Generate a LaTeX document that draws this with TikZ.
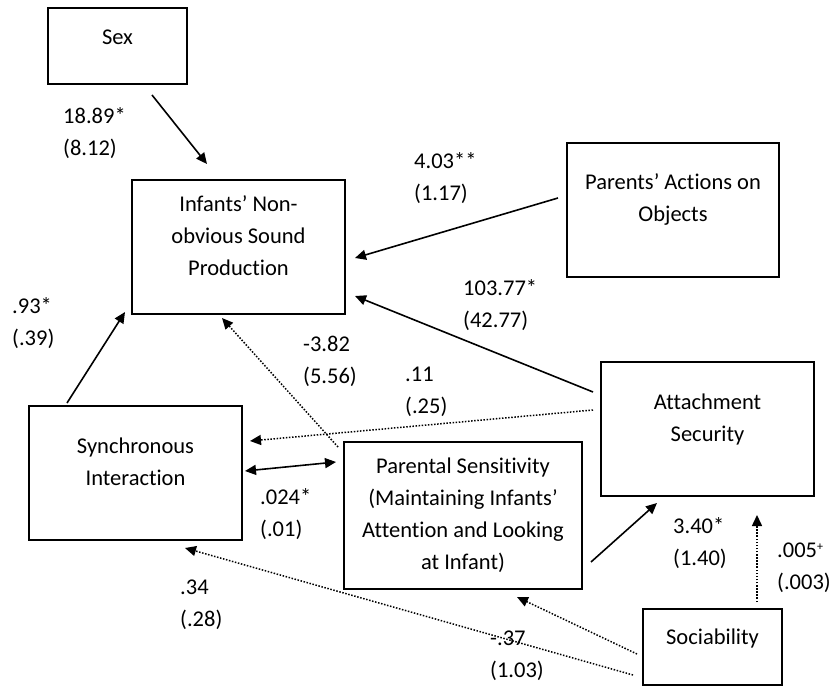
\documentclass[tikz,border=0pt]{standalone}
\usepackage{fontspec}
\setmainfont{Carlito}[Ligatures={NoCommon}]
\usetikzlibrary{arrows.meta,calc}

\begin{document}
\begin{tikzpicture}[x=1pt,y=-1pt,
  box/.style={draw, line width=1.1pt, inner sep=0pt},
  boxtext/.style={align=center, inner sep=0pt, font=\fontsize{22.5}{32}\selectfont},
  coef/.style={align=left, anchor=west, inner sep=0pt, font=\fontsize{22.5}{32}\selectfont},
  effect/.style={line width=1.6pt, -{Triangle[length=11pt,width=10pt]}},
  weak/.style={line width=1.5pt, dash pattern=on 1.5pt off 1.6pt, -{Triangle[length=11pt,width=10pt]}},
  both/.style={line width=1.6pt, {Triangle[length=11pt,width=10pt]}-{Triangle[length=11pt,width=10pt]}}]
\useasboundingbox (0,0) rectangle (835,687);

% variable boxes
\node[box, minimum width=139pt, minimum height=76pt]  (sex)  at (117.5,46)  {};
\node[box, minimum width=213pt, minimum height=134pt] (inf)  at (238.5,247) {};
\node[box, minimum width=212pt, minimum height=134pt] (act)  at (673,210)   {};
\node[box, minimum width=213pt, minimum height=134pt] (att)  at (707.5,429) {};
\node[box, minimum width=213pt, minimum height=134pt] (syn)  at (135.5,473) {};
\node[box, minimum width=238pt, minimum height=147pt] (sen)  at (463,515.5) {};
\node[box, minimum width=139pt, minimum height=76pt]  (soc)  at (712.5,647) {};

% box captions
\node[boxtext] (sex-t) at (117.5,37)  {Sex};
\node[boxtext] (inf-t) at (238.5,236) {Infants’ Non-\\obvious Sound\\Production};
\node[boxtext] (act-t) at (673,199)   {Parents’ Actions on\\Objects};
\node[boxtext] (att-t) at (707.5,419) {Attachment\\Security};
\node[boxtext] (syn-t) at (135.5,462) {Synchronous\\Interaction};
\node[boxtext] (sen-t) at (463,515)   {Parental Sensitivity\\(Maintaining Infants’\\Attention and Looking\\at Infant)};
\node[boxtext] (soc-t) at (712.5,638) {Sociability};

% connector end points
\coordinate (sexA) at (152,95);   \coordinate (sexB) at (207,164);
\coordinate (actA) at (558,198);  \coordinate (actB) at (355,258);
\coordinate (attA) at (593,392);  \coordinate (attB) at (355,296);
\coordinate (synA) at (67,403);   \coordinate (synB) at (125,312);
\coordinate (senA) at (338,447);  \coordinate (senB) at (222,318);
\coordinate (at2A) at (593,410);  \coordinate (at2B) at (250,441);
\coordinate (bidA) at (245,471);  \coordinate (bidB) at (336,462);
\coordinate (se2A) at (591,562);  \coordinate (se2B) at (657,503);
\coordinate (soAA) at (757,602);  \coordinate (soAB) at (757,515);
\coordinate (soPA) at (637,654);  \coordinate (soPB) at (517,597);
\coordinate (soSA) at (633,675);  \coordinate (soSB) at (185,548);

% paths
\draw[effect] (sexA) -- (sexB);
\draw[effect] (actA) -- (actB);
\draw[effect] (attA) -- (attB);
\draw[effect] (synA) -- (synB);
\draw[weak]   (senA) -- (senB);
\draw[weak]   (at2A) -- (at2B);
\draw[both]   (bidA) -- (bidB);
\draw[effect] (se2A) -- (se2B);
\draw[weak]   (soAA) -- (soAB);
\draw[weak]   (soPA) -- (soPB);
\draw[weak]   (soSA) -- (soSB);

% path coefficients (standard errors in brackets)
\node[coef] (c1)  at (63,133)  {18.89*\\(8.12)};
\node[coef] (c2)  at (414,178) {4.03**\\(1.17)};
\node[coef] (c3)  at (463,305) {103.77*\\(42.77)};
\node[coef] (c4)  at (12,323)  {.93*\\(.39)};
\node[coef] (c5)  at (303,361) {-3.82\\(5.56)};
\node[coef] (c6)  at (405,392) {.11\\(.25)};
\node[coef] (c7)  at (260,514) {.024*\\(.01)};
\node[coef] (c8)  at (673,543) {3.40*\\(1.40)};
\node[coef] (c9)  at (777,568) {.005\textsuperscript{\fontsize{12}{12}\selectfont +}\\(.003)};
\node[coef] (c10) at (180,605) {.34\\(.28)};
\node[coef] (c11) at (490,656) {-.37\\(1.03)};
\end{tikzpicture}
\end{document}
